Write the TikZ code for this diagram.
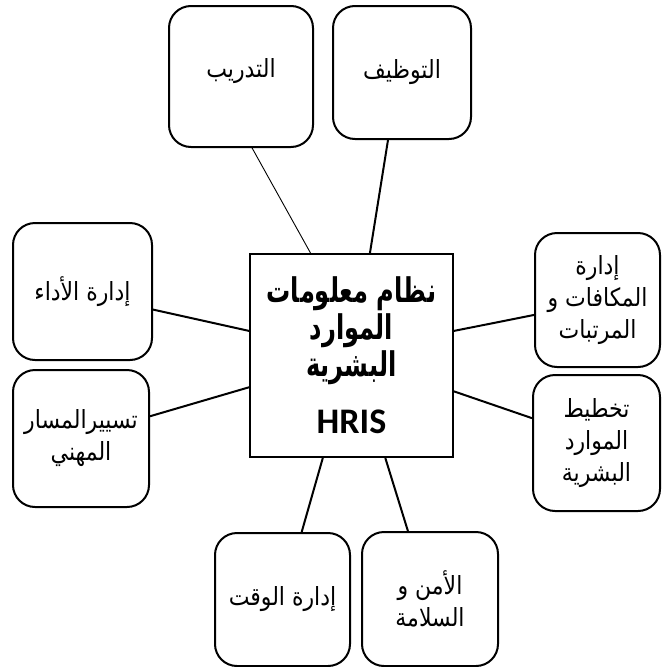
\documentclass[tikz,border=0pt]{standalone}
\usepackage{fontspec}
\usetikzlibrary{calc}
\TeXXeTstate=1
\newfontfamily\arabicfont[Script=Arabic,FakeStretch=0.88]{DejaVu Sans}
\newfontfamily\arabicbold[Script=Arabic,FakeStretch=0.71]{DejaVu Sans Bold}
\newfontfamily\hrisfont{Carlito}
\newcommand{\ar}[1]{\beginR #1\endR}
\begin{document}
\begin{tikzpicture}[x=1pt,y=-1pt,
  topic/.style={draw=black, line width=2pt, rounded corners=22pt, fill=white,
    align=center, inner sep=0pt, font=\arabicfont\fontsize{25}{32}\selectfont},
  hub/.style={draw=black, line width=2pt, fill=white, align=center, inner sep=0pt,
    font=\arabicbold\fontsize{34}{37}\selectfont},
  link/.style={line width=2pt},
  thinlink/.style={line width=0.9pt}]
\useasboundingbox (0,0) rectangle (662,667);

% central system box
\node[hub, minimum width=203pt, minimum height=203pt] (hris) at (351.5,355.5)
  {\ar{نظام معلومات}\\ \ar{الموارد}\\ \ar{البشرية}\\[20pt]
   \hrisfont\bfseries\fontsize{36}{40}\selectfont HRIS};

% surrounding function boxes
\node[topic, minimum width=144pt, minimum height=141pt] (train) at (241,76.5) {\raisebox{5pt}[\height][\depth]{\ar{التدريب}}};
\node[topic, minimum width=138pt, minimum height=133pt] (hire) at (402,72.5) {\ar{التوظيف}};
\node[topic, minimum width=139pt, minimum height=137pt] (perf) at (82.5,291.5) {\ar{إدارة الأداء}};
\node[topic, minimum width=136pt, minimum height=137pt] (career) at (81,438.5) {\ar{تسييرالمسار}\\ \ar{المهني}};
\node[topic, minimum width=125pt, minimum height=134pt] (comp) at (597.5,300) {\ar{إدارة}\\ \ar{المكافات و}\\ \ar{المرتبات}};
\node[topic, minimum width=127pt, minimum height=136pt] (plan) at (596.5,443) {\ar{تخطيط}\\ \ar{الموارد}\\ \ar{البشرية}};
\node[topic, minimum width=135pt, minimum height=133pt] (time) at (282.5,599.5) {\ar{إدارة الوقت}};
\node[topic, minimum width=136pt, minimum height=134pt] (safety) at (430,599) {\ar{الأمن و}\\ \ar{السلامة}};

% connectors to the central box
\draw[thinlink] ($(train.south west)!0.576!(train.south east)$) -- ($(hris.north west)!0.30!(hris.north east)$);
\draw[link] ($(hire.south west)!0.40!(hire.south east)$) -- ($(hris.north west)!0.59!(hris.north east)$);
\draw[link] ($(perf.north east)!0.63!(perf.south east)$) -- ($(hris.north west)!0.38!(hris.south west)$);
\draw[link] ($(career.north east)!0.34!(career.south east)$) -- ($(hris.north west)!0.655!(hris.south west)$);
\draw[link] ($(comp.north west)!0.61!(comp.south west)$) -- ($(hris.north east)!0.38!(hris.south east)$);
\draw[link] ($(plan.north west)!0.32!(plan.south west)$) -- ($(hris.north east)!0.675!(hris.south east)$);
\draw[link] ($(time.north west)!0.64!(time.north east)$) -- ($(hris.south west)!0.36!(hris.south east)$);
\draw[link] ($(safety.north west)!0.34!(safety.north east)$) -- ($(hris.south west)!0.665!(hris.south east)$);
\end{tikzpicture}
\end{document}
